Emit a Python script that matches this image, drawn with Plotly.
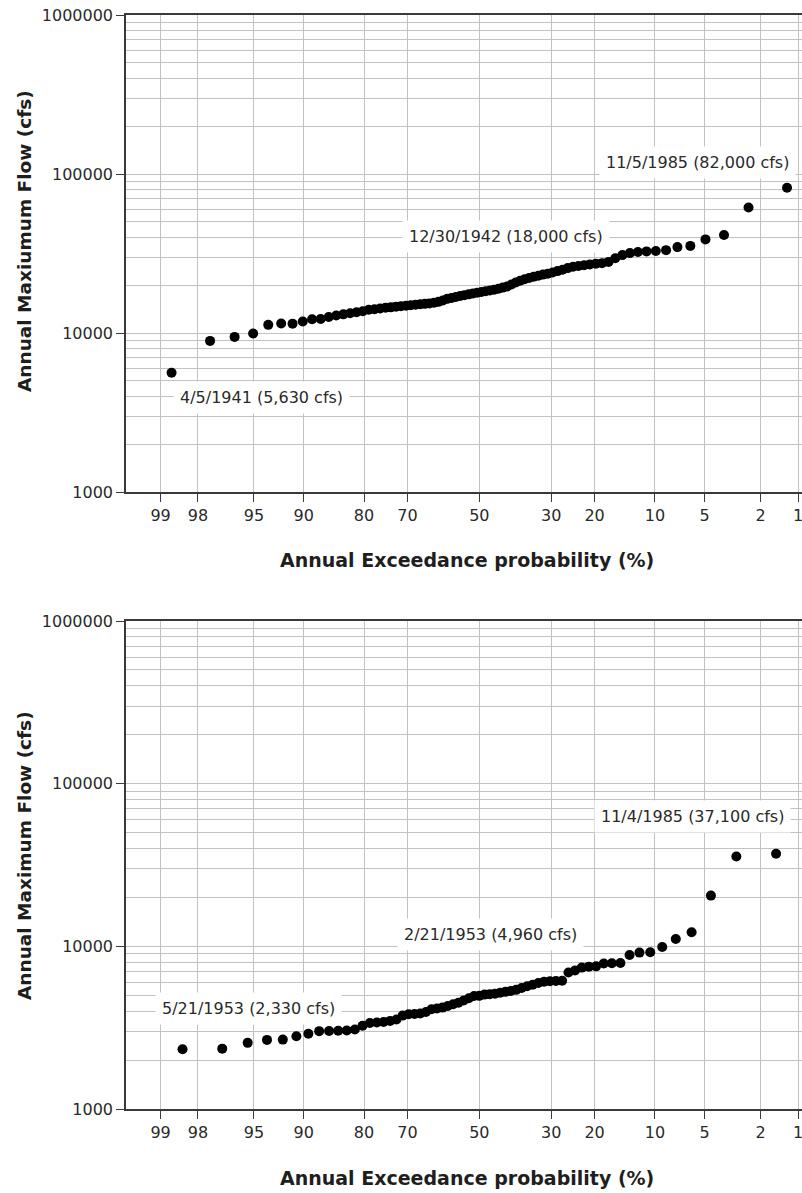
import plotly.graph_objects as go
from statistics import NormalDist
import math

W, H = 802, 1193
nd = NormalDist()

# ---------------- data ----------------
prob_ticks = [99, 98, 95, 90, 80, 70, 50, 30, 20, 10, 5, 2, 1]
flow_ticks = [1000, 10000, 100000, 1000000]

# upper chart: annual maximum flows (cfs), ranked largest -> smallest
flow_top = [
    82000, 61600, 41300, 38800, 35300, 34700, 33200, 32800, 32600, 32300,
    31800, 30900, 29500, 28000, 27500, 27300, 27000, 26700, 26400, 26100,
    25600, 25000, 24500, 24000, 23600, 23300, 22900, 22600, 22200, 21800,
    21300, 20800, 20200, 19600, 19300, 19000, 18700, 18500, 18300, 18100,
    17900, 17700, 17500, 17300, 17100, 16850, 16600, 16400, 16000, 15700,
    15500, 15350, 15250, 15150, 15050, 14950, 14850, 14750, 14650, 14500,
    14400, 14250, 14100, 14000, 13700, 13500, 13300, 13100, 12900, 12600,
    12250, 12200, 11820, 11450, 11480, 11250, 9930, 9450, 8920, 5630,
]
# lower chart
flow_bot = [
    37100, 35700, 20500, 12200, 11100, 9900, 9200, 9150, 8850, 7900,
    7880, 7850, 7530, 7500, 7400, 7100, 6900, 6150, 6130, 6100,
    6050, 5950, 5800, 5680, 5550, 5400, 5320, 5250, 5180, 5120,
    5080, 5050, 4960, 4950, 4800, 4650, 4500, 4400, 4300, 4200,
    4150, 4100, 3950, 3860, 3840, 3820, 3750, 3550, 3480, 3430,
    3400, 3380, 3250, 3080, 3040, 3030, 3020, 3010, 2900, 2800,
    2670, 2660, 2550, 2350, 2330,
]

labels_top = [
    ("11/5/1985 (82,000 cfs)", 1.23, 82000, -90, 25),
    ("12/30/1942 (18,000 cfs)", 50, 18000, 27, 56),
    ("4/5/1941 (5,630 cfs)", 98.77, 5630, 90, -25),
]
labels_bot = [
    ("11/4/1985 (37,100 cfs)", 1.515, 37100, -84, 37),
    ("2/21/1953 (4,960 cfs)", 50, 4960, 11, 61),
    ("5/21/1953 (2,330 cfs)", 98.48, 2330, 66, 41),
]


def prob_to_z(p_pct):
    # normal probability scale: exceedance 99% on the left, 1% on the right
    return nd.inv_cdf(1 - p_pct / 100.0)


def weibull_positions(n):
    return [100.0 * m / (n + 1) for m in range(1, n + 1)]


# ---------------- figure ----------------
FONT = "DejaVu Sans, Arial, sans-serif"
TXT = "#2a2a2a"
GRID = "#c2c2c2"
LINE = "#3a3a3a"

fig = go.Figure()

for flows, xa, ya in [(flow_top, "x", "y"), (flow_bot, "x2", "y2")]:
    pp = weibull_positions(len(flows))
    fig.add_trace(go.Scatter(
        x=[prob_to_z(p) for p in pp], y=flows, mode="markers",
        marker=dict(color="black", size=10, line=dict(width=0)),
        xaxis=xa, yaxis=ya, showlegend=False, hoverinfo="skip",
    ))

x_left_px, x_right_px, x50_px, px_per_z = 126, 802, 479.3, 137.0
xr = [(x_left_px - x50_px) / px_per_z, (x_right_px - x50_px) / px_per_z]

xaxis_common = dict(
    range=xr, tickmode="array",
    tickvals=[prob_to_z(p) for p in prob_ticks],
    ticktext=[str(p) for p in prob_ticks],
    showgrid=True, gridcolor=GRID, gridwidth=1,
    showline=True, linecolor=LINE, linewidth=1.5, mirror=True,
    ticks="outside", ticklen=8, tickcolor=LINE, tickwidth=1,
    tickfont=dict(family=FONT, size=16, color=TXT),
    ticklabeloverflow="allow",
    zeroline=False, automargin=False, fixedrange=True,
)
yaxis_common = dict(
    type="log", range=[3, 6], tickmode="array",
    tickvals=flow_ticks, ticktext=[str(v) for v in flow_ticks],
    showgrid=True, gridcolor=GRID, gridwidth=1,
    minor=dict(dtick="D1", showgrid=True, gridcolor=GRID, gridwidth=1, ticks=""),
    showline=True, linecolor=LINE, linewidth=1.5, mirror=False,
    ticks="outside", ticklen=8, tickcolor=LINE, tickwidth=1,
    tickfont=dict(family=FONT, size=16, color=TXT),
    zeroline=False, automargin=False, fixedrange=True,
)

top_px = (15, 492)
bot_px = (621, 1109)


def ydom(px):
    return [1 - px[1] / H, 1 - px[0] / H]


fig.update_layout(
    width=W, height=H,
    margin=dict(l=0, r=0, t=0, b=0),
    paper_bgcolor="white", plot_bgcolor="white",
    xaxis=dict(domain=[x_left_px / W, 1], anchor="y", **xaxis_common),
    yaxis=dict(domain=ydom(top_px), anchor="x", **yaxis_common),
    xaxis2=dict(domain=[x_left_px / W, 1], anchor="y2", **xaxis_common),
    yaxis2=dict(domain=ydom(bot_px), anchor="x2", **yaxis_common),
    showlegend=False,
)

ann = []
for labs, xr_, yr_ in [(labels_top, "x", "y"), (labels_bot, "x2", "y2")]:
    for text, p, v, dx, dy in labs:
        ann.append(dict(
            text=text, x=prob_to_z(p), y=math.log10(v), xref=xr_, yref=yr_,
            xanchor="center", yanchor="middle",
            showarrow=False, xshift=dx, yshift=dy, bgcolor="white", borderpad=6,
            font=dict(family=FONT, size=16, color=TXT),
        ))

# axis titles
title_font = dict(family=FONT, size=19, color="#1e1e1e")
for ypx in (560, 1178):
    ann.append(dict(text="<b>Annual Exceedance probability (%)</b>", x=467 / W, y=1 - ypx / H,
                    xref="paper", yref="paper", xanchor="center", yanchor="middle",
                    showarrow=False, font=title_font))
for text, ypx in (("<b>Annual Maxiumum Flow (cfs)</b>", 241), ("<b>Annual Maximum Flow (cfs)</b>", 856)):
    ann.append(dict(text=text, x=24 / W, y=1 - ypx / H, xref="paper", yref="paper",
                    xanchor="center", yanchor="middle",
                    showarrow=False, textangle=-90, font=dict(family=FONT, size=18.5, color="#1e1e1e")))

fig.update_layout(annotations=ann)
fig.write_html(
    "out.html",
    config={"displayModeBar": False},
    post_script="document.body.style.margin='0';document.body.style.overflow='hidden';",
)
